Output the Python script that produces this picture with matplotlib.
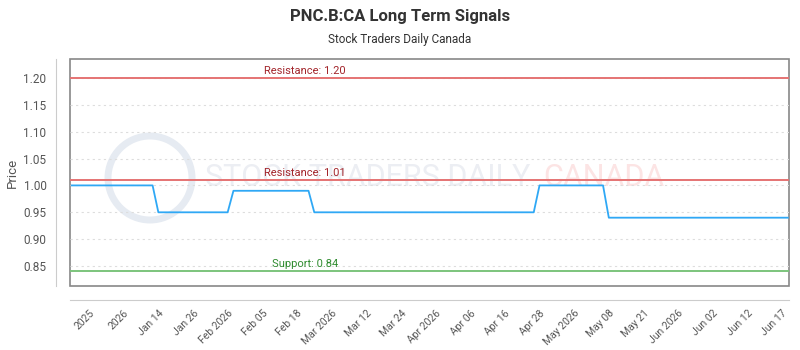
import numpy as np
import matplotlib
matplotlib.use("Agg")
import matplotlib.pyplot as plt
from matplotlib.patches import Circle
from matplotlib.transforms import blended_transform_factory

plt.rcParams["font.family"] = ["Roboto", "DejaVu Sans"]

# step levels of the signal line and how many points each level lasts
levels = [1.00, 0.95, 0.99, 0.95, 1.00, 0.94]
run_lengths = [15, 13, 14, 39, 12, 32]
price = np.repeat(levels, run_lengths)

tick_labels = [
    "2025", "2026", "Jan 14", "Jan 26", "Feb 2026", "Feb 05", "Feb 18",
    "Mar 2026", "Mar 12", "Mar 24", "Apr 2026", "Apr 06", "Apr 16", "Apr 28",
    "May 2026", "May 08", "May 21", "Jun 2026", "Jun 02", "Jun 12", "Jun 17",
]

resistance = [1.20, 1.01]
support = [0.84]

fig = plt.figure(figsize=(8, 3.5), dpi=100)
ax = fig.add_axes([70 / 800, 1 - 286 / 350, 719 / 800, 227 / 350])
ax.patch.set_facecolor("none")

# spine offsets reset the ticks, so do them before styling tick labels
for side in ("top", "right"):
    ax.spines[side].set_visible(False)
for side in ("left", "bottom"):
    ax.spines[side].set_position(("outward", 10))
    ax.spines[side].set_color("#cccccc")
ax.patch.set_edgecolor("#888888")
ax.patch.set_linewidth(1.2)

x = np.arange(len(price))
ax.plot(x, price, color="#2fa8f5", lw=1.3, zorder=4)

trans = blended_transform_factory(ax.transAxes, ax.transData)
for r in resistance:
    ax.axhline(r, color="#e57373", lw=1.4, zorder=3)
    ax.text(0.327, r + 0.004, f"Resistance: {r:.2f}", transform=trans,
            ha="center", va="bottom", fontsize=8, color="#a3262c", zorder=5)
for s in support:
    ax.axhline(s, color="#7cc47c", lw=1.4, zorder=3)
    ax.text(0.327, s + 0.004, f"Support: {s:.2f}", transform=trans,
            ha="center", va="bottom", fontsize=8, color="#2e8b2e", zorder=5)

ax.set_xlim(-0.3, len(price) - 0.8)
ax.set_ylim(0.813, 1.235)
yt = np.arange(0.85, 1.201, 0.05)
ax.set_yticks(yt)
ax.set_yticklabels([f"{v:.2f}" for v in yt])
ax.set_xticks(np.arange(3, 3 + 6 * len(tick_labels), 6))
ax.set_xticklabels(tick_labels)

ax.grid(axis="y", color="#dddddd", lw=0.8, ls=(0, (2, 3)), zorder=0)
ax.tick_params(axis="both", length=0, labelcolor="#555555")
ax.tick_params(axis="y", labelsize=8.5, pad=7)
ax.tick_params(axis="x", labelsize=7.5, pad=6, labelrotation=45)
plt.setp(ax.get_xticklabels(), ha="right", rotation_mode="anchor")

ax.set_ylabel("Price", fontsize=9.5, color="#555555", labelpad=3)

# faint watermark, drawn behind the axes
fig.add_artist(Circle((1.50, 3.5 - 1.78), 0.42, transform=fig.dpi_scale_trans,
                      fill=False, ec="#e6ebf2", lw=5, zorder=-1))
fig.text(205 / 800, 1 - 178 / 350, "STOCK TRADERS DAILY", fontsize=22,
         color="#eceef3", ha="left", va="center", zorder=-1)
fig.text(543 / 800, 1 - 178 / 350, "CANADA", fontsize=22,
         color="#fce4e4", ha="left", va="center", zorder=-1)

fig.text(0.5, 1 - 16 / 350, "PNC.B:CA Long Term Signals", ha="center",
         va="center", fontsize=12, fontweight="bold", color="#333333")
fig.text(0.5, 1 - 40 / 350, "Stock Traders Daily Canada", ha="center",
         va="center", fontsize=8.5, color="#333333")

fig.savefig("out.png", dpi=100)
